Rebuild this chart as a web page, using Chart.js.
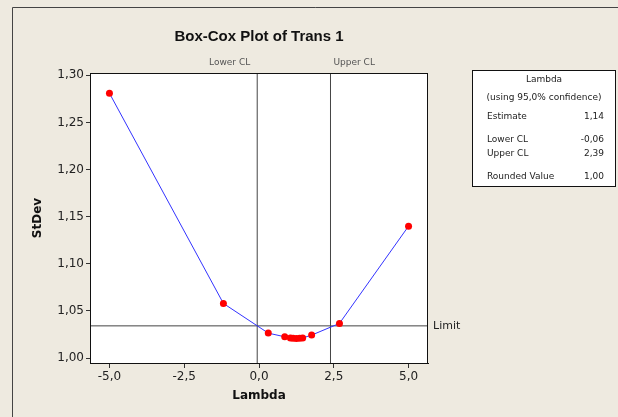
<!DOCTYPE html>
<html lang="en">
<head>
    <meta charset="UTF-8">
    <title>Box-Cox Plot of Trans 1</title>
    <script src="https://cdn.jsdelivr.net/npm/chart.js"></script>
    <style>
        html, body { margin: 0; padding: 0; background: #eeeae0; }
        canvas { display: block; }
    </style>
</head>
<body>
    <canvas id="boxCoxChart" width="618" height="417"></canvas>

    <script>
        // values
        const lambdaVals = [-5, -1.19, 0.31, 0.86, 1.05, 1.14, 1.25, 1.36, 1.46, 1.76, 2.69, 5];
        const stdevVals = [1.281, 1.058, 1.0265, 1.0226, 1.0212, 1.0210, 1.0209, 1.0210, 1.0214, 1.0244, 1.0368, 1.140];
        const lowerCL = -0.06;
        const upperCL = 2.39;
        const limitVal = 1.0342;
        const xRange = [-5.65, 5.65];
        const yRange = [0.9948, 1.3025];
        const legendRows = [
            ['Estimate', '1,14'],
            ['Lower CL', '-0,06'],
            ['Upper CL', '2,39'],
            ['Rounded Value', '1,00']
        ];

        const comma = (v, d) => v.toFixed(d).replace('.', ',');
        const font = 'DejaVu Sans';

        const decor = {
            id: 'decor',
            beforeDraw(chart) {
                const ctx = chart.ctx;
                const a = chart.chartArea;
                ctx.save();
                ctx.fillStyle = '#eeeae0';
                ctx.fillRect(0, 0, chart.width, chart.height);
                // outer frame
                ctx.strokeStyle = '#444';
                ctx.lineWidth = 1;
                ctx.beginPath();
                ctx.moveTo(12.5, chart.height);
                ctx.lineTo(12.5, 7.5);
                ctx.lineTo(chart.width, 7.5);
                ctx.stroke();
                ctx.fillStyle = '#ffffff';
                ctx.fillRect(a.left, a.top, a.right - a.left, a.bottom - a.top);
                ctx.restore();
            },
            afterDraw(chart) {
                const ctx = chart.ctx;
                const a = chart.chartArea;
                const xs = chart.scales.x;
                const ys = chart.scales.y;
                ctx.save();
                ctx.strokeStyle = '#111';
                ctx.lineWidth = 1;
                ctx.strokeRect(a.left + 0.5, a.top + 0.5, a.right - a.left - 1, a.bottom - a.top);

                // title
                ctx.fillStyle = '#111';
                ctx.font = 'bold 15px "Liberation Sans"';
                ctx.textAlign = 'center';
                ctx.textBaseline = 'alphabetic';
                ctx.fillText('Box-Cox Plot of Trans 1', (a.left + a.right) / 2, 41);

                // CL labels
                ctx.font = '9px "' + font + '"';
                ctx.fillStyle = '#555';
                ctx.textBaseline = 'middle';
                ctx.textAlign = 'right';
                ctx.fillText('Lower CL', xs.getPixelForValue(lowerCL) - 7, 63);
                ctx.textAlign = 'left';
                ctx.fillText('Upper CL', xs.getPixelForValue(upperCL) + 3, 63);

                // limit label
                ctx.font = '11px "' + font + '"';
                ctx.fillStyle = '#222';
                ctx.fillText('Limit', a.right + 5, ys.getPixelForValue(limitVal));

                // axis titles
                ctx.font = 'bold 12px "' + font + '"';
                ctx.fillStyle = '#111';
                ctx.textAlign = 'center';
                ctx.fillText('Lambda', (a.left + a.right) / 2, 396);
                ctx.translate(38, (a.top + a.bottom) / 2);
                ctx.rotate(-Math.PI / 2);
                ctx.fillText('StDev', 0, 0);
                ctx.setTransform(1, 0, 0, 1, 0, 0);

                // legend box
                ctx.fillStyle = '#ffffff';
                ctx.fillRect(472, 70, 144, 117);
                ctx.strokeStyle = '#111';
                ctx.strokeRect(472.5, 70.5, 143, 116);
                ctx.font = '9px "' + font + '"';
                ctx.fillStyle = '#222';
                ctx.textAlign = 'center';
                ctx.fillText('Lambda', 544, 80);
                ctx.fillText('(using 95,0% confidence)', 544, 98);
                const rowY = [117, 140, 154, 177];
                legendRows.forEach((r, i) => {
                    ctx.textAlign = 'left';
                    ctx.fillText(r[0], 487, rowY[i]);
                    ctx.textAlign = 'right';
                    ctx.fillText(r[1], 604, rowY[i]);
                });
                ctx.restore();
            }
        };

        const refLine = '#444';

        new Chart(document.getElementById('boxCoxChart'), {
            type: 'scatter',
            data: {
                datasets: [
                    {
                        data: lambdaVals.map((x, i) => ({ x: x, y: stdevVals[i] })),
                        showLine: true,
                        borderColor: '#3333ff',
                        borderWidth: 1,
                        pointRadius: 3.5,
                        pointBackgroundColor: '#ff0000',
                        pointBorderWidth: 0,
                        order: 0
                    },
                    {
                        data: [{ x: lowerCL, y: yRange[0] }, { x: lowerCL, y: yRange[1] }],
                        showLine: true, borderColor: refLine, borderWidth: 1, pointRadius: 0, order: 1
                    },
                    {
                        data: [{ x: upperCL, y: yRange[0] }, { x: upperCL, y: yRange[1] }],
                        showLine: true, borderColor: refLine, borderWidth: 1, pointRadius: 0, order: 1
                    },
                    {
                        data: [{ x: xRange[0], y: limitVal }, { x: xRange[1], y: limitVal }],
                        showLine: true, borderColor: refLine, borderWidth: 1, pointRadius: 0, order: 1
                    }
                ]
            },
            options: {
                responsive: false,
                animation: false,
                devicePixelRatio: 1,
                layout: { padding: { left: 0, right: 190, top: 73, bottom: 0 } },
                plugins: {
                    legend: { display: false },
                    tooltip: { enabled: false },
                    title: { display: false }
                },
                scales: {
                    x: {
                        type: 'linear',
                        min: xRange[0],
                        max: xRange[1],
                        afterFit: s => { s.height = 54; },
                        ticks: {
                            stepSize: 2.5,
                            includeBounds: false,
                            callback: v => comma(v, 1),
                            font: { family: font, size: 12 },
                            color: '#222',
                            padding: 2,
                            maxRotation: 0
                        },
                        grid: { drawOnChartArea: false, tickLength: 5, color: '#333' },
                        border: { color: '#111' }
                    },
                    y: {
                        min: yRange[0],
                        max: yRange[1],
                        afterFit: s => { s.width = 90; },
                        ticks: {
                            stepSize: 0.05,
                            includeBounds: false,
                            callback: v => comma(v, 2),
                            font: { family: font, size: 12 },
                            color: '#222',
                            padding: 2
                        },
                        grid: { drawOnChartArea: false, tickLength: 4, color: '#333' },
                        border: { color: '#111' }
                    }
                }
            },
            plugins: [decor]
        });
    </script>
</body>
</html>
